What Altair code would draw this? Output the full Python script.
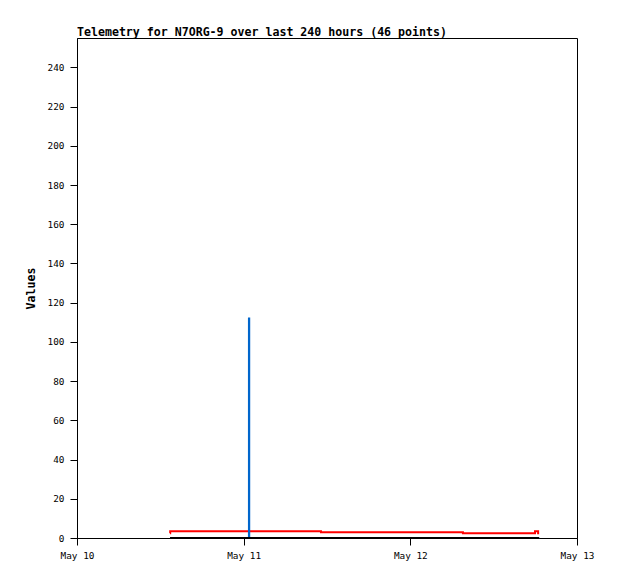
import altair as alt
import pandas as pd

# hours after 2024-05-10 00:00 UTC for each of the 46 telemetry packets
hours = [13.40, 13.42, 15.8, 17.0, 18.2, 19.4, 20.6, 21.8, 23.0, 24.2,
         24.76, 24.80, 25.9, 27.1, 28.3, 29.5, 30.7, 31.9, 33.1, 34.3,
         35.13, 36.4, 37.6, 38.8, 40.0, 41.2, 42.4, 43.6, 44.8, 46.0,
         47.2, 48.4, 49.6, 50.8, 52.0, 53.2, 54.4, 55.57, 57.4, 59.2,
         61.0, 62.8, 64.4, 65.95, 66.4, 66.55]

red_vals = ([2.4] + [3.5] * 19 + [2.9] * 17 + [2.4] * 6 + [3.5] + [2.4] * 2)
blue_vals = [0] * 10 + [112] + [0] * 35
black_vals = [0] * 46

x_ticks = ["May 10", "May 11", "May 12", "May 13"]
y_ticks = [0, 20, 40, 60, 80, 100, 120, 140, 160, 180, 200, 220, 240]

base_t = pd.Timestamp("2024-05-10T00:00:00Z")
times = [(base_t + pd.Timedelta(hours=h)).strftime("%Y-%m-%dT%H:%M:%SZ") for h in hours]

df = pd.DataFrame({"time": times, "red": red_vals, "blue": blue_vals, "black": black_vals})

FONT = "DejaVu Sans Mono"

days = [alt.DateTime(year=2024, month=5, date=d, utc=True) for d in (10, 11, 12, 13)]

x_enc = alt.X(
    "time:T",
    scale=alt.Scale(type="utc", domain=[days[0], days[-1]]),
    axis=alt.Axis(values=days, labelExpr="utcFormat(datum.value, '%b %d')", title=None,
                  grid=False, tickSize=7, labelPadding=6, labelFont=FONT,
                  labelFontSize=9.4, labelColor="#000", tickColor="#000",
                  domainColor="#000", labelFlush=False, labelOverlap=False),
)

y_axis = alt.Axis(values=y_ticks, title="Values", grid=False, tickSize=7,
                  labelPadding=6, labelFont=FONT, labelFontSize=9.4,
                  labelColor="#000", tickColor="#000", domainColor="#000",
                  titleFont=FONT, titleFontSize=11.6, titleFontWeight="bold",
                  titleColor="#000", titlePadding=11)
y_scale = alt.Scale(domain=[0, 255], nice=False, zero=True)

def y_enc(field):
    return alt.Y(f"{field}:Q", scale=y_scale, axis=y_axis)

base = alt.Chart(df)
red_line = base.mark_line(color="#ff0000", strokeWidth=2, interpolate="step-after").encode(
    x=x_enc, y=y_enc("red"))
blue_line = base.mark_line(color="#0066cc", strokeWidth=2, interpolate="step-after").encode(
    x=x_enc, y=y_enc("blue"))
black_line = base.mark_line(color="#000000", strokeWidth=2, interpolate="step-after").encode(
    x=x_enc, y=y_enc("black"))

chart = alt.layer(red_line, blue_line, black_line).properties(
    width=500,
    height=500,
    title=alt.TitleParams("Telemetry for N7ORG-9 over last 240 hours (46 points)",
                          anchor="start", frame="group", font=FONT, fontSize=11.6,
                          fontWeight="bold", color="#000", offset=-1),
    autosize="none",
    padding={"left": 69, "top": 30, "right": 33, "bottom": 33},
).configure(background="white").configure_view(stroke="#000", strokeWidth=1)

chart.save("out.html", embed_options={"renderer": "svg", "actions": False})
